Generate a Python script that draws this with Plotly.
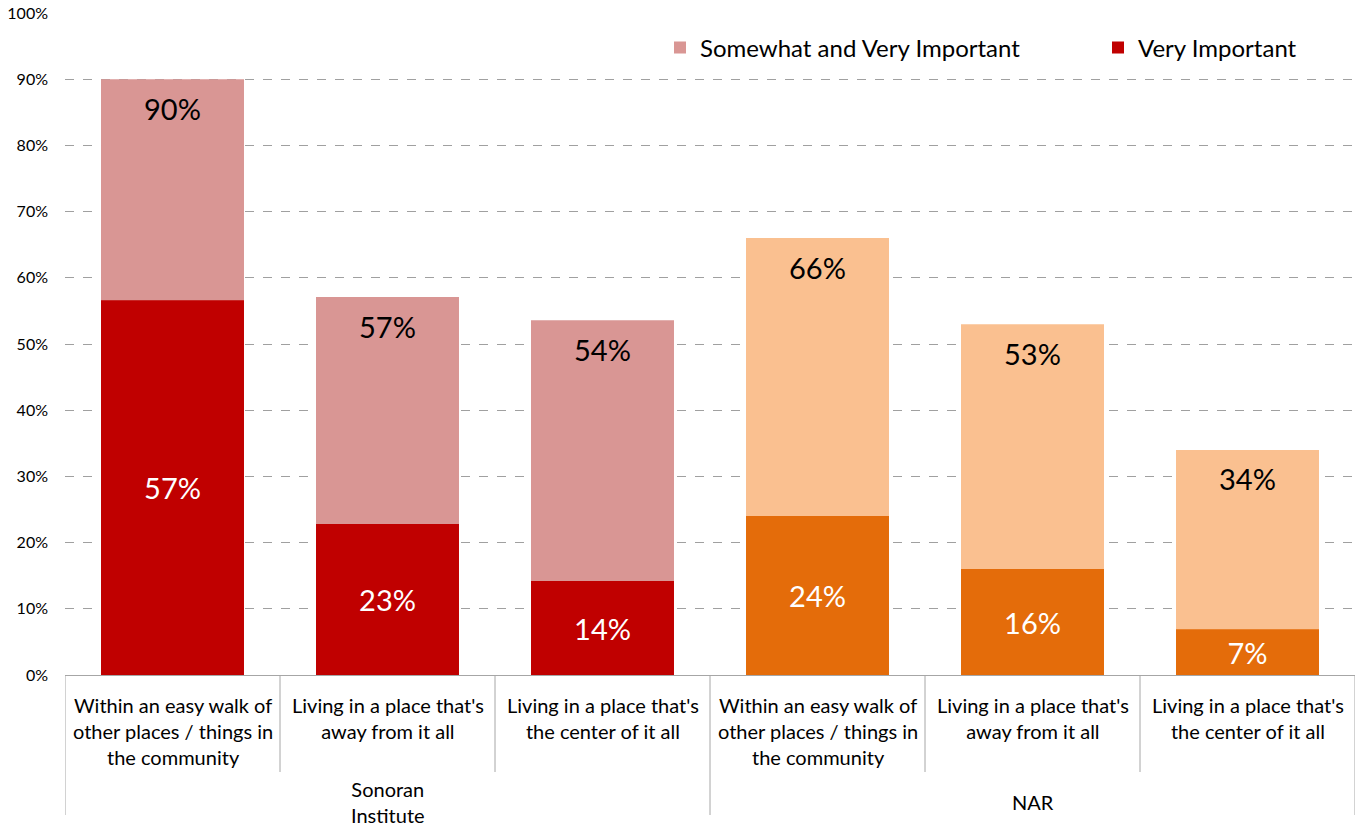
import plotly.graph_objects as go

# Survey data (percent of respondents)
groups = ["Sonoran<br>Institute", "NAR"]
categories = [
    "Within an easy walk of<br>other places / things in<br>the community",
    "Living in a place that's<br>away from it all",
    "Living in a place that's<br>the center of it all",
]
somewhat_and_very = [90.0, 57.1, 53.6, 66.0, 53.0, 34.0]
very_important = [56.6, 22.8, 14.2, 24.0, 16.0, 6.9]

light_colors = ["#D99694"] * 3 + ["#FAC090"] * 3
dark_colors = ["#C00000"] * 3 + ["#E46C0A"] * 3

FONT = "Lato"
n_cat = len(categories)
x = list(range(n_cat * len(groups)))

fig = go.Figure()

fig.add_trace(go.Bar(
    x=x, y=somewhat_and_very,
    name="Somewhat and Very Important",
    marker=dict(color=light_colors, line=dict(width=0)),
    width=0.665,
    legend="legend",
))

fig.add_trace(go.Bar(
    x=x, y=very_important,
    name="Very Important",
    marker=dict(color=dark_colors, line=dict(width=0)),
    width=0.665,
    text=[f"{round(v)}%" for v in very_important],
    textposition="inside",
    insidetextanchor="middle",
    textangle=0,
    constraintext="none",
    textfont=dict(family=FONT, size=29, color="white"),
    legend="legend2",
))

# labels near the top of the light bars
for xi, v in zip(x, somewhat_and_very):
    fig.add_annotation(x=xi, y=v, text=f"{round(v)}%", showarrow=False,
                       yanchor="middle", yshift=-29,
                       font=dict(family=FONT, size=29, color="black"))

# two-level category axis drawn by hand
H = 662.0  # plot height in px
W = 1290.0  # plot width in px
def py(pix):
    return -pix / H

for gi, g in enumerate(groups):
    for ci, c in enumerate(categories):
        fig.add_annotation(x=gi * n_cat + ci, y=py(16), yref="paper", text=c,
                           showarrow=False, yanchor="top",
                           font=dict(family=FONT, size=20, color="black"))
    fig.add_annotation(x=gi * n_cat + (n_cat - 1) / 2, y=py(127), yref="paper",
                       text=g, showarrow=False, yanchor="middle",
                       font=dict(family=FONT, size=20, color="black"))

for b in range(len(x) + 1):
    is_group = b % n_cat == 0
    fig.add_shape(type="line", xref="x", yref="paper",
                  x0=b - 0.5, x1=b - 0.5, y0=0, y1=py(140 if is_group else 97),
                  line=dict(color="#A6A6A6", width=1))

legend_style = dict(orientation="h", xanchor="left", yanchor="middle",
                    y=(675 - 48) / H, bgcolor="rgba(0,0,0,0)",
                    font=dict(family=FONT, size=24, color="black"))

fig.update_layout(
    barmode="overlay",
    width=1357, height=832,
    margin=dict(l=65, r=2, t=13, b=157),
    plot_bgcolor="white", paper_bgcolor="white",
    font=dict(family=FONT, color="black"),
    showlegend=True,
    legend=dict(x=(660 - 65) / W, **legend_style),
    legend2=dict(x=(1098 - 65) / W, **legend_style),
    xaxis=dict(range=[-0.5, len(x) - 0.5], showticklabels=False, ticks="",
               showgrid=False, zeroline=False, showline=True,
               linecolor="#A6A6A6", linewidth=1),
    yaxis=dict(range=[0, 100], dtick=10, ticksuffix="%", showgrid=True,
               gridcolor="#A0A0A0", griddash="dash", gridwidth=1,
               zeroline=False, showline=False, ticks="",
               ticklabelstandoff=16,
               tickfont=dict(family=FONT, size=16, color="black")),
)

fig.write_html("out.html", config={"displayModeBar": False},
               post_script="document.body.style.margin='0';")
